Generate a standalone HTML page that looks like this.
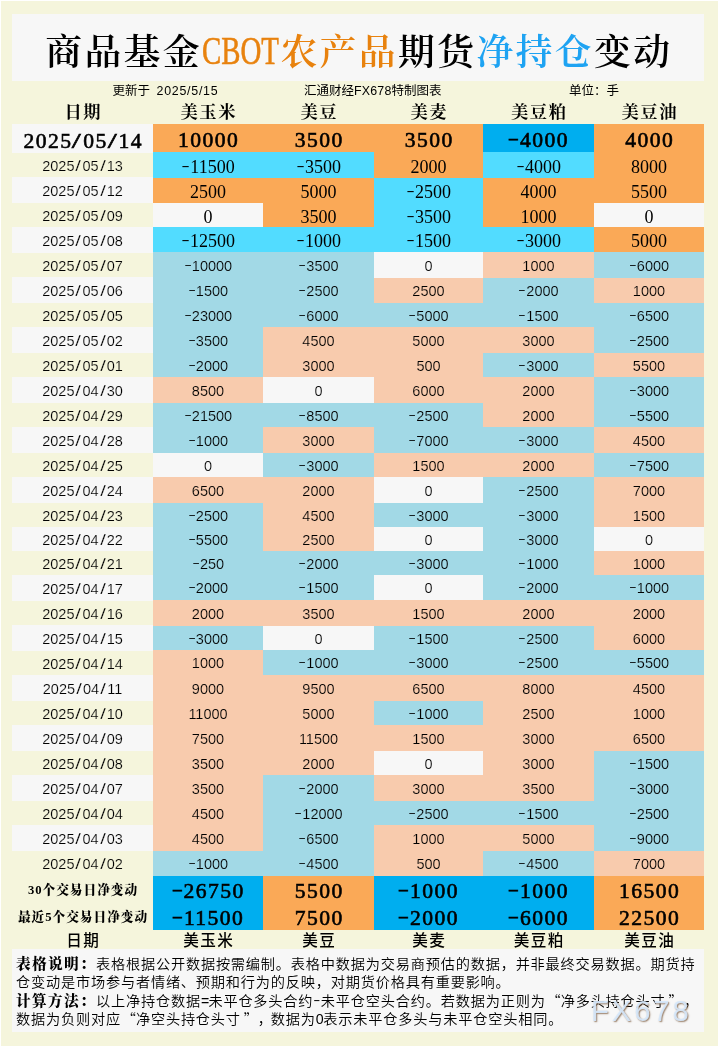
<!DOCTYPE html>
<html lang="zh-CN">
<head>
<meta charset="utf-8">
<title>商品基金CBOT农产品期货净持仓变动</title>
<style>
html,body{margin:0;padding:0}
body{width:719px;height:1047px;position:relative;overflow:hidden;background:#fff;color:#000;font-family:"Liberation Serif","Noto Serif CJK SC",serif}
#bg{position:absolute;left:1px;top:1px;width:717px;height:1045px;background:#f5f5dc}
.a{position:absolute;white-space:nowrap}
.box{position:absolute;background:#f7f7f7}
#title{position:absolute;left:12px;top:14px;width:692px;height:67px;background:#f7f7f7}
#title span{position:absolute;top:0;height:67px;line-height:77px;font-size:36.8px;font-family:"Liberation Serif","Noto Serif CJK SC",serif;font-weight:600;white-space:nowrap;letter-spacing:2.4px}
.or{color:#e8820e}.bl{color:#1ea3f2}
.sub{position:absolute;top:83px;height:16px;line-height:16px;font-size:12.5px;word-spacing:3px;font-family:"Liberation Sans","Noto Sans CJK SC",sans-serif;font-weight:400;white-space:nowrap}
.sub i{font-style:normal;font-family:"Liberation Sans",sans-serif;font-size:12.4px;letter-spacing:.75px}
.hd{position:absolute;top:100px;height:24px;line-height:26px;text-align:center;font-size:17.3px;font-weight:700;letter-spacing:1.5px;text-indent:1.5px;font-family:"Liberation Serif","Noto Serif CJK SC",serif}
.c{position:absolute;text-align:center;white-space:nowrap;overflow:hidden}
.d,.n{font-family:"Liberation Sans",sans-serif;font-size:14.5px}
.d u{text-decoration:none;display:inline-block;width:8px;text-align:center;transform:scaleX(1.4)}
.n u{text-decoration:none;display:inline-block;width:8px;text-align:center;transform:scaleX(1.3)}
.s{font-family:"Liberation Serif",serif;font-size:18px}
.b{font-family:"Liberation Serif",serif;font-size:21.6px;font-weight:400;-webkit-text-stroke:.6px #000;letter-spacing:1.45px;text-indent:1.45px}
.b u{text-decoration:none;display:inline-block;width:10.8px;text-align:center;text-indent:0;transform:scaleX(1.5)}
.m{display:inline-block;text-indent:0;position:relative;top:-2.3px}
.n i{font-style:normal;display:inline-block;width:8px;text-align:center;transform:scale(1.6,.8);position:relative;top:-1.6px;-webkit-text-stroke:0}
.lab{font-family:"Liberation Serif","Noto Serif CJK SC",serif;font-weight:900;font-size:12.67px;letter-spacing:1px;text-indent:1px}
.fh{position:absolute;top:930px;height:20px;line-height:21px;text-align:center;font-size:15.6px;letter-spacing:1.4px;text-indent:1.4px;font-weight:500;font-family:"Liberation Sans","Noto Sans CJK SC",sans-serif}
#notes{position:absolute;left:12px;top:949px;width:692px;height:83px;background:#f7f7f7}
#notes p{text-spacing-trim:space-all;position:absolute;left:4px;margin:0;height:18px;line-height:18px;font-size:14.2px;letter-spacing:.8px;white-space:nowrap;font-family:"Liberation Sans","Noto Sans CJK SC",sans-serif;font-weight:350}
#notes b{font-family:"Liberation Serif","Noto Serif CJK SC",serif;font-weight:900;font-size:14.6px;letter-spacing:1.4px}
#notes .q{font-family:"Noto Sans CJK SC",sans-serif;display:inline-block;width:15px;letter-spacing:0}
#notes .q.r{text-align:right}
#notes .q.l{text-indent:3px}
#notes .cm{position:relative;left:2px}
#notes .h{display:inline-block;width:7.5px;text-align:center;letter-spacing:0}
#wm{position:absolute;left:591px;top:994px;font-family:"Liberation Sans",sans-serif;font-size:29.3px;line-height:34px;letter-spacing:2.85px;color:rgba(214,232,252,.92);text-shadow:1px 1px 1.5px rgba(120,85,55,.75)}
</style>
</head>
<body>
<div id="bg"></div>

<div id="title">
<span style="left:33.2px">商品基金</span>
<span class="or" id="cbot" style="left:189.6px;font-size:40.3px;line-height:74px;letter-spacing:0;font-weight:400;-webkit-text-stroke:.55px #e8820e;transform:scaleX(.716);transform-origin:0 50%">CBOT</span>
<span class="or" style="left:268.4px">农产品</span>
<span style="left:386.0px">期货</span>
<span class="bl" style="left:464.4px">净持仓</span>
<span style="left:582.0px">变动</span>
</div>
<div class="sub" style="left:112.5px">更新于 <i>2025/5/15</i></div>
<div class="sub" style="left:304px">汇通财经<i style="letter-spacing:.2px">FX678</i>特制图表</div>
<div class="sub" style="left:569px">单位：手</div>
<div class="hd" style="left:12px;width:141px">日期</div>
<div class="hd" style="left:153px;width:110px">美玉米</div>
<div class="hd" style="left:263px;width:111px">美豆</div>
<div class="hd" style="left:374px;width:109px">美麦</div>
<div class="hd" style="left:483px;width:111px">美豆粕</div>
<div class="hd" style="left:594px;width:110px">美豆油</div>
<div class="c b" style="left:12px;top:124px;width:141px;height:29px;line-height:34px;background:#f7f7f7">2025<u>/</u>05<u>/</u>14</div>
<div class="c b" style="left:153px;top:124px;width:110px;height:28px;line-height:33px;background:#faa957">10000</div>
<div class="c b" style="left:263px;top:124px;width:111px;height:28px;line-height:33px;background:#faa957">3500</div>
<div class="c b" style="left:374px;top:124px;width:109px;height:28px;line-height:33px;background:#faa957">3500</div>
<div class="c b" style="left:483px;top:124px;width:111px;height:28px;line-height:33px;background:#00aeef"><span class="m" style="width:10.8px;transform:scale(1.55,.8)">-</span>4000</div>
<div class="c b" style="left:594px;top:124px;width:110px;height:28px;line-height:33px;background:#faa957">4000</div>
<div class="c d" style="left:12px;top:153px;width:141px;height:24px;line-height:26px;background:#f5f5dc;-webkit-text-stroke:.18px #f5f5dc">2025<u>/</u>05<u>/</u>13</div>
<div class="c s" style="left:153px;top:152px;width:110px;height:26px;line-height:30px;background:#52dcff"><span class="m" style="width:9px;transform:scale(1.35,.8)">-</span>11500</div>
<div class="c s" style="left:263px;top:152px;width:111px;height:26px;line-height:30px;background:#52dcff"><span class="m" style="width:9px;transform:scale(1.35,.8)">-</span>3500</div>
<div class="c s" style="left:374px;top:152px;width:109px;height:26px;line-height:30px;background:#faa957">2000</div>
<div class="c s" style="left:483px;top:152px;width:111px;height:26px;line-height:30px;background:#52dcff"><span class="m" style="width:9px;transform:scale(1.35,.8)">-</span>4000</div>
<div class="c s" style="left:594px;top:152px;width:110px;height:26px;line-height:30px;background:#faa957">8000</div>
<div class="c d" style="left:12px;top:177px;width:141px;height:26px;line-height:28px;background:#f7f7f7;-webkit-text-stroke:.18px #f7f7f7">2025<u>/</u>05<u>/</u>12</div>
<div class="c s" style="left:153px;top:178px;width:110px;height:25px;line-height:29px;background:#faa957">2500</div>
<div class="c s" style="left:263px;top:178px;width:111px;height:25px;line-height:29px;background:#faa957">5000</div>
<div class="c s" style="left:374px;top:178px;width:109px;height:25px;line-height:29px;background:#52dcff"><span class="m" style="width:9px;transform:scale(1.35,.8)">-</span>2500</div>
<div class="c s" style="left:483px;top:178px;width:111px;height:25px;line-height:29px;background:#faa957">4000</div>
<div class="c s" style="left:594px;top:178px;width:110px;height:25px;line-height:29px;background:#faa957">5500</div>
<div class="c d" style="left:12px;top:203px;width:141px;height:24px;line-height:26px;background:#f5f5dc;-webkit-text-stroke:.18px #f5f5dc">2025<u>/</u>05<u>/</u>09</div>
<div class="c s" style="left:153px;top:203px;width:110px;height:24px;line-height:28px;background:#f7f7f7">0</div>
<div class="c s" style="left:263px;top:203px;width:111px;height:24px;line-height:28px;background:#faa957">3500</div>
<div class="c s" style="left:374px;top:203px;width:109px;height:24px;line-height:28px;background:#52dcff"><span class="m" style="width:9px;transform:scale(1.35,.8)">-</span>3500</div>
<div class="c s" style="left:483px;top:203px;width:111px;height:24px;line-height:28px;background:#faa957">1000</div>
<div class="c s" style="left:594px;top:203px;width:110px;height:24px;line-height:28px;background:#f7f7f7">0</div>
<div class="c d" style="left:12px;top:227px;width:141px;height:26px;line-height:28px;background:#f7f7f7;-webkit-text-stroke:.18px #f7f7f7">2025<u>/</u>05<u>/</u>08</div>
<div class="c s" style="left:153px;top:227px;width:110px;height:25px;line-height:29px;background:#52dcff"><span class="m" style="width:9px;transform:scale(1.35,.8)">-</span>12500</div>
<div class="c s" style="left:263px;top:227px;width:111px;height:25px;line-height:29px;background:#52dcff"><span class="m" style="width:9px;transform:scale(1.35,.8)">-</span>1000</div>
<div class="c s" style="left:374px;top:227px;width:109px;height:25px;line-height:29px;background:#52dcff"><span class="m" style="width:9px;transform:scale(1.35,.8)">-</span>1500</div>
<div class="c s" style="left:483px;top:227px;width:111px;height:25px;line-height:29px;background:#52dcff"><span class="m" style="width:9px;transform:scale(1.35,.8)">-</span>3000</div>
<div class="c s" style="left:594px;top:227px;width:110px;height:25px;line-height:29px;background:#faa957">5000</div>
<div class="c d" style="left:12px;top:253px;width:141px;height:24px;line-height:26px;background:#f5f5dc;-webkit-text-stroke:.18px #f5f5dc">2025<u>/</u>05<u>/</u>07</div>
<div class="c n" style="left:153px;top:252px;width:110px;height:26px;line-height:28px;background:#a2d9e6;-webkit-text-stroke:.18px #a2d9e6"><i>-</i>10000</div>
<div class="c n" style="left:263px;top:252px;width:111px;height:26px;line-height:28px;background:#a2d9e6;-webkit-text-stroke:.18px #a2d9e6"><i>-</i>3500</div>
<div class="c n" style="left:374px;top:252px;width:109px;height:26px;line-height:28px;background:#f7f7f7;-webkit-text-stroke:.18px #f7f7f7">0</div>
<div class="c n" style="left:483px;top:252px;width:111px;height:26px;line-height:28px;background:#f8cbad;-webkit-text-stroke:.18px #f8cbad">1000</div>
<div class="c n" style="left:594px;top:252px;width:110px;height:26px;line-height:28px;background:#a2d9e6;-webkit-text-stroke:.18px #a2d9e6"><i>-</i>6000</div>
<div class="c d" style="left:12px;top:277px;width:141px;height:26px;line-height:28px;background:#f7f7f7;-webkit-text-stroke:.18px #f7f7f7">2025<u>/</u>05<u>/</u>06</div>
<div class="c n" style="left:153px;top:278px;width:110px;height:25px;line-height:27px;background:#a2d9e6;-webkit-text-stroke:.18px #a2d9e6"><i>-</i>1500</div>
<div class="c n" style="left:263px;top:278px;width:111px;height:25px;line-height:27px;background:#a2d9e6;-webkit-text-stroke:.18px #a2d9e6"><i>-</i>2500</div>
<div class="c n" style="left:374px;top:278px;width:109px;height:25px;line-height:27px;background:#f8cbad;-webkit-text-stroke:.18px #f8cbad">2500</div>
<div class="c n" style="left:483px;top:278px;width:111px;height:25px;line-height:27px;background:#a2d9e6;-webkit-text-stroke:.18px #a2d9e6"><i>-</i>2000</div>
<div class="c n" style="left:594px;top:278px;width:110px;height:25px;line-height:27px;background:#f8cbad;-webkit-text-stroke:.18px #f8cbad">1000</div>
<div class="c d" style="left:12px;top:303px;width:141px;height:24px;line-height:26px;background:#f5f5dc;-webkit-text-stroke:.18px #f5f5dc">2025<u>/</u>05<u>/</u>05</div>
<div class="c n" style="left:153px;top:303px;width:110px;height:24px;line-height:26px;background:#a2d9e6;-webkit-text-stroke:.18px #a2d9e6"><i>-</i>23000</div>
<div class="c n" style="left:263px;top:303px;width:111px;height:24px;line-height:26px;background:#a2d9e6;-webkit-text-stroke:.18px #a2d9e6"><i>-</i>6000</div>
<div class="c n" style="left:374px;top:303px;width:109px;height:24px;line-height:26px;background:#a2d9e6;-webkit-text-stroke:.18px #a2d9e6"><i>-</i>5000</div>
<div class="c n" style="left:483px;top:303px;width:111px;height:24px;line-height:26px;background:#a2d9e6;-webkit-text-stroke:.18px #a2d9e6"><i>-</i>1500</div>
<div class="c n" style="left:594px;top:303px;width:110px;height:24px;line-height:26px;background:#a2d9e6;-webkit-text-stroke:.18px #a2d9e6"><i>-</i>6500</div>
<div class="c d" style="left:12px;top:327px;width:141px;height:26px;line-height:28px;background:#f7f7f7;-webkit-text-stroke:.18px #f7f7f7">2025<u>/</u>05<u>/</u>02</div>
<div class="c n" style="left:153px;top:327px;width:110px;height:26px;line-height:28px;background:#a2d9e6;-webkit-text-stroke:.18px #a2d9e6"><i>-</i>3500</div>
<div class="c n" style="left:263px;top:327px;width:111px;height:26px;line-height:28px;background:#f8cbad;-webkit-text-stroke:.18px #f8cbad">4500</div>
<div class="c n" style="left:374px;top:327px;width:109px;height:26px;line-height:28px;background:#f8cbad;-webkit-text-stroke:.18px #f8cbad">5000</div>
<div class="c n" style="left:483px;top:327px;width:111px;height:26px;line-height:28px;background:#f8cbad;-webkit-text-stroke:.18px #f8cbad">3000</div>
<div class="c n" style="left:594px;top:327px;width:110px;height:26px;line-height:28px;background:#a2d9e6;-webkit-text-stroke:.18px #a2d9e6"><i>-</i>2500</div>
<div class="c d" style="left:12px;top:353px;width:141px;height:24px;line-height:26px;background:#f5f5dc;-webkit-text-stroke:.18px #f5f5dc">2025<u>/</u>05<u>/</u>01</div>
<div class="c n" style="left:153px;top:353px;width:110px;height:24px;line-height:26px;background:#a2d9e6;-webkit-text-stroke:.18px #a2d9e6"><i>-</i>2000</div>
<div class="c n" style="left:263px;top:353px;width:111px;height:24px;line-height:26px;background:#f8cbad;-webkit-text-stroke:.18px #f8cbad">3000</div>
<div class="c n" style="left:374px;top:353px;width:109px;height:24px;line-height:26px;background:#f8cbad;-webkit-text-stroke:.18px #f8cbad">500</div>
<div class="c n" style="left:483px;top:353px;width:111px;height:24px;line-height:26px;background:#a2d9e6;-webkit-text-stroke:.18px #a2d9e6"><i>-</i>3000</div>
<div class="c n" style="left:594px;top:353px;width:110px;height:24px;line-height:26px;background:#f8cbad;-webkit-text-stroke:.18px #f8cbad">5500</div>
<div class="c d" style="left:12px;top:377px;width:141px;height:26px;line-height:28px;background:#f7f7f7;-webkit-text-stroke:.18px #f7f7f7">2025<u>/</u>04<u>/</u>30</div>
<div class="c n" style="left:153px;top:377px;width:110px;height:26px;line-height:28px;background:#f8cbad;-webkit-text-stroke:.18px #f8cbad">8500</div>
<div class="c n" style="left:263px;top:377px;width:111px;height:26px;line-height:28px;background:#f7f7f7;-webkit-text-stroke:.18px #f7f7f7">0</div>
<div class="c n" style="left:374px;top:377px;width:109px;height:26px;line-height:28px;background:#f8cbad;-webkit-text-stroke:.18px #f8cbad">6000</div>
<div class="c n" style="left:483px;top:377px;width:111px;height:26px;line-height:28px;background:#f8cbad;-webkit-text-stroke:.18px #f8cbad">2000</div>
<div class="c n" style="left:594px;top:377px;width:110px;height:26px;line-height:28px;background:#a2d9e6;-webkit-text-stroke:.18px #a2d9e6"><i>-</i>3000</div>
<div class="c d" style="left:12px;top:403px;width:141px;height:24px;line-height:26px;background:#f5f5dc;-webkit-text-stroke:.18px #f5f5dc">2025<u>/</u>04<u>/</u>29</div>
<div class="c n" style="left:153px;top:403px;width:110px;height:24px;line-height:26px;background:#a2d9e6;-webkit-text-stroke:.18px #a2d9e6"><i>-</i>21500</div>
<div class="c n" style="left:263px;top:403px;width:111px;height:24px;line-height:26px;background:#a2d9e6;-webkit-text-stroke:.18px #a2d9e6"><i>-</i>8500</div>
<div class="c n" style="left:374px;top:403px;width:109px;height:24px;line-height:26px;background:#a2d9e6;-webkit-text-stroke:.18px #a2d9e6"><i>-</i>2500</div>
<div class="c n" style="left:483px;top:403px;width:111px;height:24px;line-height:26px;background:#f8cbad;-webkit-text-stroke:.18px #f8cbad">2000</div>
<div class="c n" style="left:594px;top:403px;width:110px;height:24px;line-height:26px;background:#a2d9e6;-webkit-text-stroke:.18px #a2d9e6"><i>-</i>5500</div>
<div class="c d" style="left:12px;top:427px;width:141px;height:26px;line-height:28px;background:#f7f7f7;-webkit-text-stroke:.18px #f7f7f7">2025<u>/</u>04<u>/</u>28</div>
<div class="c n" style="left:153px;top:427px;width:110px;height:26px;line-height:28px;background:#a2d9e6;-webkit-text-stroke:.18px #a2d9e6"><i>-</i>1000</div>
<div class="c n" style="left:263px;top:427px;width:111px;height:26px;line-height:28px;background:#f8cbad;-webkit-text-stroke:.18px #f8cbad">3000</div>
<div class="c n" style="left:374px;top:427px;width:109px;height:26px;line-height:28px;background:#a2d9e6;-webkit-text-stroke:.18px #a2d9e6"><i>-</i>7000</div>
<div class="c n" style="left:483px;top:427px;width:111px;height:26px;line-height:28px;background:#a2d9e6;-webkit-text-stroke:.18px #a2d9e6"><i>-</i>3000</div>
<div class="c n" style="left:594px;top:427px;width:110px;height:26px;line-height:28px;background:#f8cbad;-webkit-text-stroke:.18px #f8cbad">4500</div>
<div class="c d" style="left:12px;top:453px;width:141px;height:24px;line-height:26px;background:#f5f5dc;-webkit-text-stroke:.18px #f5f5dc">2025<u>/</u>04<u>/</u>25</div>
<div class="c n" style="left:153px;top:453px;width:110px;height:24px;line-height:26px;background:#f7f7f7;-webkit-text-stroke:.18px #f7f7f7">0</div>
<div class="c n" style="left:263px;top:453px;width:111px;height:24px;line-height:26px;background:#a2d9e6;-webkit-text-stroke:.18px #a2d9e6"><i>-</i>3000</div>
<div class="c n" style="left:374px;top:453px;width:109px;height:24px;line-height:26px;background:#f8cbad;-webkit-text-stroke:.18px #f8cbad">1500</div>
<div class="c n" style="left:483px;top:453px;width:111px;height:24px;line-height:26px;background:#f8cbad;-webkit-text-stroke:.18px #f8cbad">2000</div>
<div class="c n" style="left:594px;top:453px;width:110px;height:24px;line-height:26px;background:#a2d9e6;-webkit-text-stroke:.18px #a2d9e6"><i>-</i>7500</div>
<div class="c d" style="left:12px;top:477px;width:141px;height:26px;line-height:28px;background:#f7f7f7;-webkit-text-stroke:.18px #f7f7f7">2025<u>/</u>04<u>/</u>24</div>
<div class="c n" style="left:153px;top:477px;width:110px;height:26px;line-height:28px;background:#f8cbad;-webkit-text-stroke:.18px #f8cbad">6500</div>
<div class="c n" style="left:263px;top:477px;width:111px;height:26px;line-height:28px;background:#f8cbad;-webkit-text-stroke:.18px #f8cbad">2000</div>
<div class="c n" style="left:374px;top:477px;width:109px;height:26px;line-height:28px;background:#f7f7f7;-webkit-text-stroke:.18px #f7f7f7">0</div>
<div class="c n" style="left:483px;top:477px;width:111px;height:26px;line-height:28px;background:#a2d9e6;-webkit-text-stroke:.18px #a2d9e6"><i>-</i>2500</div>
<div class="c n" style="left:594px;top:477px;width:110px;height:26px;line-height:28px;background:#f8cbad;-webkit-text-stroke:.18px #f8cbad">7000</div>
<div class="c d" style="left:12px;top:503px;width:141px;height:24px;line-height:26px;background:#f5f5dc;-webkit-text-stroke:.18px #f5f5dc">2025<u>/</u>04<u>/</u>23</div>
<div class="c n" style="left:153px;top:503px;width:110px;height:24px;line-height:26px;background:#a2d9e6;-webkit-text-stroke:.18px #a2d9e6"><i>-</i>2500</div>
<div class="c n" style="left:263px;top:503px;width:111px;height:24px;line-height:26px;background:#f8cbad;-webkit-text-stroke:.18px #f8cbad">4500</div>
<div class="c n" style="left:374px;top:503px;width:109px;height:24px;line-height:26px;background:#a2d9e6;-webkit-text-stroke:.18px #a2d9e6"><i>-</i>3000</div>
<div class="c n" style="left:483px;top:503px;width:111px;height:24px;line-height:26px;background:#a2d9e6;-webkit-text-stroke:.18px #a2d9e6"><i>-</i>3000</div>
<div class="c n" style="left:594px;top:503px;width:110px;height:24px;line-height:26px;background:#f8cbad;-webkit-text-stroke:.18px #f8cbad">1500</div>
<div class="c d" style="left:12px;top:527px;width:141px;height:24px;line-height:26px;background:#f7f7f7;-webkit-text-stroke:.18px #f7f7f7">2025<u>/</u>04<u>/</u>22</div>
<div class="c n" style="left:153px;top:527px;width:110px;height:24px;line-height:26px;background:#a2d9e6;-webkit-text-stroke:.18px #a2d9e6"><i>-</i>5500</div>
<div class="c n" style="left:263px;top:527px;width:111px;height:24px;line-height:26px;background:#f8cbad;-webkit-text-stroke:.18px #f8cbad">2500</div>
<div class="c n" style="left:374px;top:527px;width:109px;height:24px;line-height:26px;background:#f7f7f7;-webkit-text-stroke:.18px #f7f7f7">0</div>
<div class="c n" style="left:483px;top:527px;width:111px;height:24px;line-height:26px;background:#a2d9e6;-webkit-text-stroke:.18px #a2d9e6"><i>-</i>3000</div>
<div class="c n" style="left:594px;top:527px;width:110px;height:24px;line-height:26px;background:#f7f7f7;-webkit-text-stroke:.18px #f7f7f7">0</div>
<div class="c d" style="left:12px;top:551px;width:141px;height:24px;line-height:26px;background:#f5f5dc;-webkit-text-stroke:.18px #f5f5dc">2025<u>/</u>04<u>/</u>21</div>
<div class="c n" style="left:153px;top:551px;width:110px;height:24px;line-height:26px;background:#a2d9e6;-webkit-text-stroke:.18px #a2d9e6"><i>-</i>250</div>
<div class="c n" style="left:263px;top:551px;width:111px;height:24px;line-height:26px;background:#a2d9e6;-webkit-text-stroke:.18px #a2d9e6"><i>-</i>2000</div>
<div class="c n" style="left:374px;top:551px;width:109px;height:24px;line-height:26px;background:#a2d9e6;-webkit-text-stroke:.18px #a2d9e6"><i>-</i>3000</div>
<div class="c n" style="left:483px;top:551px;width:111px;height:24px;line-height:26px;background:#a2d9e6;-webkit-text-stroke:.18px #a2d9e6"><i>-</i>1000</div>
<div class="c n" style="left:594px;top:551px;width:110px;height:24px;line-height:26px;background:#f8cbad;-webkit-text-stroke:.18px #f8cbad">1000</div>
<div class="c d" style="left:12px;top:575px;width:141px;height:26px;line-height:28px;background:#f7f7f7;-webkit-text-stroke:.18px #f7f7f7">2025<u>/</u>04<u>/</u>17</div>
<div class="c n" style="left:153px;top:575px;width:110px;height:25px;line-height:27px;background:#a2d9e6;-webkit-text-stroke:.18px #a2d9e6"><i>-</i>2000</div>
<div class="c n" style="left:263px;top:575px;width:111px;height:25px;line-height:27px;background:#a2d9e6;-webkit-text-stroke:.18px #a2d9e6"><i>-</i>1500</div>
<div class="c n" style="left:374px;top:575px;width:109px;height:25px;line-height:27px;background:#f7f7f7;-webkit-text-stroke:.18px #f7f7f7">0</div>
<div class="c n" style="left:483px;top:575px;width:111px;height:25px;line-height:27px;background:#a2d9e6;-webkit-text-stroke:.18px #a2d9e6"><i>-</i>2000</div>
<div class="c n" style="left:594px;top:575px;width:110px;height:25px;line-height:27px;background:#a2d9e6;-webkit-text-stroke:.18px #a2d9e6"><i>-</i>1000</div>
<div class="c d" style="left:12px;top:601px;width:141px;height:24px;line-height:26px;background:#f5f5dc;-webkit-text-stroke:.18px #f5f5dc">2025<u>/</u>04<u>/</u>16</div>
<div class="c n" style="left:153px;top:600px;width:110px;height:26px;line-height:28px;background:#f8cbad;-webkit-text-stroke:.18px #f8cbad">2000</div>
<div class="c n" style="left:263px;top:600px;width:111px;height:26px;line-height:28px;background:#f8cbad;-webkit-text-stroke:.18px #f8cbad">3500</div>
<div class="c n" style="left:374px;top:600px;width:109px;height:26px;line-height:28px;background:#f8cbad;-webkit-text-stroke:.18px #f8cbad">1500</div>
<div class="c n" style="left:483px;top:600px;width:111px;height:26px;line-height:28px;background:#f8cbad;-webkit-text-stroke:.18px #f8cbad">2000</div>
<div class="c n" style="left:594px;top:600px;width:110px;height:26px;line-height:28px;background:#f8cbad;-webkit-text-stroke:.18px #f8cbad">2000</div>
<div class="c d" style="left:12px;top:625px;width:141px;height:26px;line-height:28px;background:#f7f7f7;-webkit-text-stroke:.18px #f7f7f7">2025<u>/</u>04<u>/</u>15</div>
<div class="c n" style="left:153px;top:626px;width:110px;height:24px;line-height:26px;background:#a2d9e6;-webkit-text-stroke:.18px #a2d9e6"><i>-</i>3000</div>
<div class="c n" style="left:263px;top:626px;width:111px;height:24px;line-height:26px;background:#f7f7f7;-webkit-text-stroke:.18px #f7f7f7">0</div>
<div class="c n" style="left:374px;top:626px;width:109px;height:24px;line-height:26px;background:#a2d9e6;-webkit-text-stroke:.18px #a2d9e6"><i>-</i>1500</div>
<div class="c n" style="left:483px;top:626px;width:111px;height:24px;line-height:26px;background:#a2d9e6;-webkit-text-stroke:.18px #a2d9e6"><i>-</i>2500</div>
<div class="c n" style="left:594px;top:626px;width:110px;height:24px;line-height:26px;background:#f8cbad;-webkit-text-stroke:.18px #f8cbad">6000</div>
<div class="c d" style="left:12px;top:651px;width:141px;height:24px;line-height:26px;background:#f5f5dc;-webkit-text-stroke:.18px #f5f5dc">2025<u>/</u>04<u>/</u>14</div>
<div class="c n" style="left:153px;top:650px;width:110px;height:25px;line-height:27px;background:#f8cbad;-webkit-text-stroke:.18px #f8cbad">1000</div>
<div class="c n" style="left:263px;top:650px;width:111px;height:25px;line-height:27px;background:#a2d9e6;-webkit-text-stroke:.18px #a2d9e6"><i>-</i>1000</div>
<div class="c n" style="left:374px;top:650px;width:109px;height:25px;line-height:27px;background:#a2d9e6;-webkit-text-stroke:.18px #a2d9e6"><i>-</i>3000</div>
<div class="c n" style="left:483px;top:650px;width:111px;height:25px;line-height:27px;background:#a2d9e6;-webkit-text-stroke:.18px #a2d9e6"><i>-</i>2500</div>
<div class="c n" style="left:594px;top:650px;width:110px;height:25px;line-height:27px;background:#a2d9e6;-webkit-text-stroke:.18px #a2d9e6"><i>-</i>5500</div>
<div class="c d" style="left:12px;top:675px;width:141px;height:26px;line-height:28px;background:#f7f7f7;-webkit-text-stroke:.18px #f7f7f7">2025<u>/</u>04<u>/</u>11</div>
<div class="c n" style="left:153px;top:675px;width:110px;height:26px;line-height:28px;background:#f8cbad;-webkit-text-stroke:.18px #f8cbad">9000</div>
<div class="c n" style="left:263px;top:675px;width:111px;height:26px;line-height:28px;background:#f8cbad;-webkit-text-stroke:.18px #f8cbad">9500</div>
<div class="c n" style="left:374px;top:675px;width:109px;height:26px;line-height:28px;background:#f8cbad;-webkit-text-stroke:.18px #f8cbad">6500</div>
<div class="c n" style="left:483px;top:675px;width:111px;height:26px;line-height:28px;background:#f8cbad;-webkit-text-stroke:.18px #f8cbad">8000</div>
<div class="c n" style="left:594px;top:675px;width:110px;height:26px;line-height:28px;background:#f8cbad;-webkit-text-stroke:.18px #f8cbad">4500</div>
<div class="c d" style="left:12px;top:701px;width:141px;height:24px;line-height:26px;background:#f5f5dc;-webkit-text-stroke:.18px #f5f5dc">2025<u>/</u>04<u>/</u>10</div>
<div class="c n" style="left:153px;top:701px;width:110px;height:24px;line-height:26px;background:#f8cbad;-webkit-text-stroke:.18px #f8cbad">11000</div>
<div class="c n" style="left:263px;top:701px;width:111px;height:24px;line-height:26px;background:#f8cbad;-webkit-text-stroke:.18px #f8cbad">5000</div>
<div class="c n" style="left:374px;top:701px;width:109px;height:24px;line-height:26px;background:#a2d9e6;-webkit-text-stroke:.18px #a2d9e6"><i>-</i>1000</div>
<div class="c n" style="left:483px;top:701px;width:111px;height:24px;line-height:26px;background:#f8cbad;-webkit-text-stroke:.18px #f8cbad">2500</div>
<div class="c n" style="left:594px;top:701px;width:110px;height:24px;line-height:26px;background:#f8cbad;-webkit-text-stroke:.18px #f8cbad">1000</div>
<div class="c d" style="left:12px;top:725px;width:141px;height:26px;line-height:28px;background:#f7f7f7;-webkit-text-stroke:.18px #f7f7f7">2025<u>/</u>04<u>/</u>09</div>
<div class="c n" style="left:153px;top:725px;width:110px;height:26px;line-height:28px;background:#f8cbad;-webkit-text-stroke:.18px #f8cbad">7500</div>
<div class="c n" style="left:263px;top:725px;width:111px;height:26px;line-height:28px;background:#f8cbad;-webkit-text-stroke:.18px #f8cbad">11500</div>
<div class="c n" style="left:374px;top:725px;width:109px;height:26px;line-height:28px;background:#f8cbad;-webkit-text-stroke:.18px #f8cbad">1500</div>
<div class="c n" style="left:483px;top:725px;width:111px;height:26px;line-height:28px;background:#f8cbad;-webkit-text-stroke:.18px #f8cbad">3000</div>
<div class="c n" style="left:594px;top:725px;width:110px;height:26px;line-height:28px;background:#f8cbad;-webkit-text-stroke:.18px #f8cbad">6500</div>
<div class="c d" style="left:12px;top:751px;width:141px;height:24px;line-height:26px;background:#f5f5dc;-webkit-text-stroke:.18px #f5f5dc">2025<u>/</u>04<u>/</u>08</div>
<div class="c n" style="left:153px;top:751px;width:110px;height:24px;line-height:26px;background:#f8cbad;-webkit-text-stroke:.18px #f8cbad">3500</div>
<div class="c n" style="left:263px;top:751px;width:111px;height:24px;line-height:26px;background:#f8cbad;-webkit-text-stroke:.18px #f8cbad">2000</div>
<div class="c n" style="left:374px;top:751px;width:109px;height:24px;line-height:26px;background:#f7f7f7;-webkit-text-stroke:.18px #f7f7f7">0</div>
<div class="c n" style="left:483px;top:751px;width:111px;height:24px;line-height:26px;background:#f8cbad;-webkit-text-stroke:.18px #f8cbad">3000</div>
<div class="c n" style="left:594px;top:751px;width:110px;height:24px;line-height:26px;background:#a2d9e6;-webkit-text-stroke:.18px #a2d9e6"><i>-</i>1500</div>
<div class="c d" style="left:12px;top:775px;width:141px;height:26px;line-height:28px;background:#f7f7f7;-webkit-text-stroke:.18px #f7f7f7">2025<u>/</u>04<u>/</u>07</div>
<div class="c n" style="left:153px;top:775px;width:110px;height:26px;line-height:28px;background:#f8cbad;-webkit-text-stroke:.18px #f8cbad">3500</div>
<div class="c n" style="left:263px;top:775px;width:111px;height:26px;line-height:28px;background:#a2d9e6;-webkit-text-stroke:.18px #a2d9e6"><i>-</i>2000</div>
<div class="c n" style="left:374px;top:775px;width:109px;height:26px;line-height:28px;background:#f8cbad;-webkit-text-stroke:.18px #f8cbad">3000</div>
<div class="c n" style="left:483px;top:775px;width:111px;height:26px;line-height:28px;background:#f8cbad;-webkit-text-stroke:.18px #f8cbad">3500</div>
<div class="c n" style="left:594px;top:775px;width:110px;height:26px;line-height:28px;background:#a2d9e6;-webkit-text-stroke:.18px #a2d9e6"><i>-</i>3000</div>
<div class="c d" style="left:12px;top:801px;width:141px;height:24px;line-height:26px;background:#f5f5dc;-webkit-text-stroke:.18px #f5f5dc">2025<u>/</u>04<u>/</u>04</div>
<div class="c n" style="left:153px;top:801px;width:110px;height:24px;line-height:26px;background:#f8cbad;-webkit-text-stroke:.18px #f8cbad">4500</div>
<div class="c n" style="left:263px;top:801px;width:111px;height:24px;line-height:26px;background:#a2d9e6;-webkit-text-stroke:.18px #a2d9e6"><i>-</i>12000</div>
<div class="c n" style="left:374px;top:801px;width:109px;height:24px;line-height:26px;background:#a2d9e6;-webkit-text-stroke:.18px #a2d9e6"><i>-</i>2500</div>
<div class="c n" style="left:483px;top:801px;width:111px;height:24px;line-height:26px;background:#a2d9e6;-webkit-text-stroke:.18px #a2d9e6"><i>-</i>1500</div>
<div class="c n" style="left:594px;top:801px;width:110px;height:24px;line-height:26px;background:#a2d9e6;-webkit-text-stroke:.18px #a2d9e6"><i>-</i>2500</div>
<div class="c d" style="left:12px;top:825px;width:141px;height:26px;line-height:28px;background:#f7f7f7;-webkit-text-stroke:.18px #f7f7f7">2025<u>/</u>04<u>/</u>03</div>
<div class="c n" style="left:153px;top:825px;width:110px;height:26px;line-height:28px;background:#f8cbad;-webkit-text-stroke:.18px #f8cbad">4500</div>
<div class="c n" style="left:263px;top:825px;width:111px;height:26px;line-height:28px;background:#a2d9e6;-webkit-text-stroke:.18px #a2d9e6"><i>-</i>6500</div>
<div class="c n" style="left:374px;top:825px;width:109px;height:26px;line-height:28px;background:#f8cbad;-webkit-text-stroke:.18px #f8cbad">1000</div>
<div class="c n" style="left:483px;top:825px;width:111px;height:26px;line-height:28px;background:#f8cbad;-webkit-text-stroke:.18px #f8cbad">5000</div>
<div class="c n" style="left:594px;top:825px;width:110px;height:26px;line-height:28px;background:#a2d9e6;-webkit-text-stroke:.18px #a2d9e6"><i>-</i>9000</div>
<div class="c d" style="left:12px;top:851px;width:141px;height:25px;line-height:27px;background:#f5f5dc;-webkit-text-stroke:.18px #f5f5dc">2025<u>/</u>04<u>/</u>02</div>
<div class="c n" style="left:153px;top:851px;width:110px;height:25px;line-height:27px;background:#a2d9e6;-webkit-text-stroke:.18px #a2d9e6"><i>-</i>1000</div>
<div class="c n" style="left:263px;top:851px;width:111px;height:25px;line-height:27px;background:#a2d9e6;-webkit-text-stroke:.18px #a2d9e6"><i>-</i>4500</div>
<div class="c n" style="left:374px;top:851px;width:109px;height:25px;line-height:27px;background:#f8cbad;-webkit-text-stroke:.18px #f8cbad">500</div>
<div class="c n" style="left:483px;top:851px;width:111px;height:25px;line-height:27px;background:#a2d9e6;-webkit-text-stroke:.18px #a2d9e6"><i>-</i>4500</div>
<div class="c n" style="left:594px;top:851px;width:110px;height:25px;line-height:27px;background:#f8cbad;-webkit-text-stroke:.18px #f8cbad">7000</div>
<div class="c lab" style="left:12px;top:876px;width:141px;height:27px;line-height:29px">30个交易日净变动</div>
<div class="c b" style="left:153px;top:876px;width:110px;height:27px;line-height:30px;background:#00aeef"><span class="m" style="width:10.8px;transform:scale(1.55,.8)">-</span>26750</div>
<div class="c b" style="left:263px;top:876px;width:111px;height:27px;line-height:30px;background:#faa957">5500</div>
<div class="c b" style="left:374px;top:876px;width:109px;height:27px;line-height:30px;background:#00aeef"><span class="m" style="width:10.8px;transform:scale(1.55,.8)">-</span>1000</div>
<div class="c b" style="left:483px;top:876px;width:111px;height:27px;line-height:30px;background:#00aeef"><span class="m" style="width:10.8px;transform:scale(1.55,.8)">-</span>1000</div>
<div class="c b" style="left:594px;top:876px;width:110px;height:27px;line-height:30px;background:#faa957">16500</div>
<div class="c lab" style="left:12px;top:903px;width:141px;height:27px;line-height:29px">最近5个交易日净变动</div>
<div class="c b" style="left:153px;top:903px;width:110px;height:27px;line-height:30px;background:#00aeef"><span class="m" style="width:10.8px;transform:scale(1.55,.8)">-</span>11500</div>
<div class="c b" style="left:263px;top:903px;width:111px;height:27px;line-height:30px;background:#faa957">7500</div>
<div class="c b" style="left:374px;top:903px;width:109px;height:27px;line-height:30px;background:#00aeef"><span class="m" style="width:10.8px;transform:scale(1.55,.8)">-</span>2000</div>
<div class="c b" style="left:483px;top:903px;width:111px;height:27px;line-height:30px;background:#00aeef"><span class="m" style="width:10.8px;transform:scale(1.55,.8)">-</span>6000</div>
<div class="c b" style="left:594px;top:903px;width:110px;height:27px;line-height:30px;background:#faa957">22500</div>
<div class="fh" style="left:12px;width:141px">日期</div>
<div class="fh" style="left:153px;width:110px">美玉米</div>
<div class="fh" style="left:263px;width:111px">美豆</div>
<div class="fh" style="left:374px;width:109px">美麦</div>
<div class="fh" style="left:483px;width:111px">美豆粕</div>
<div class="fh" style="left:594px;width:110px">美豆油</div>
<div id="notes">
<p style="top:6px"><b>表格说明：</b>表格根据公开数据按需编制。表格中数据为交易商预估的数据，并非最终交易数据。期货持</p>
<p style="top:24px">仓变动是市场参与者情绪、预期和行为的反映，对期货价格具有重要影响。</p>
<p style="top:42px"><b>计算方法：</b>以上净持仓数据<span class="h">=</span>未平仓多头合约<span class="h" style="transform:scale(1.5,.85);position:relative;top:-1px">-</span>未平仓空头合约。若数据为正则为<span class="q r">“</span>净多头持仓头寸<span class="q l">”</span><span class="cm" style="left:3.5px">，</span></p>
<p style="top:60px">数据为负则对应<span class="q r">“</span>净空头持仓头寸<span class="q l">”</span><span class="cm">，</span>数据为<span class="h">0</span>表示未平仓多头与未平仓空头相同。</p>
</div>
<div id="wm" class="a">FX678</div>
</body>
</html>
